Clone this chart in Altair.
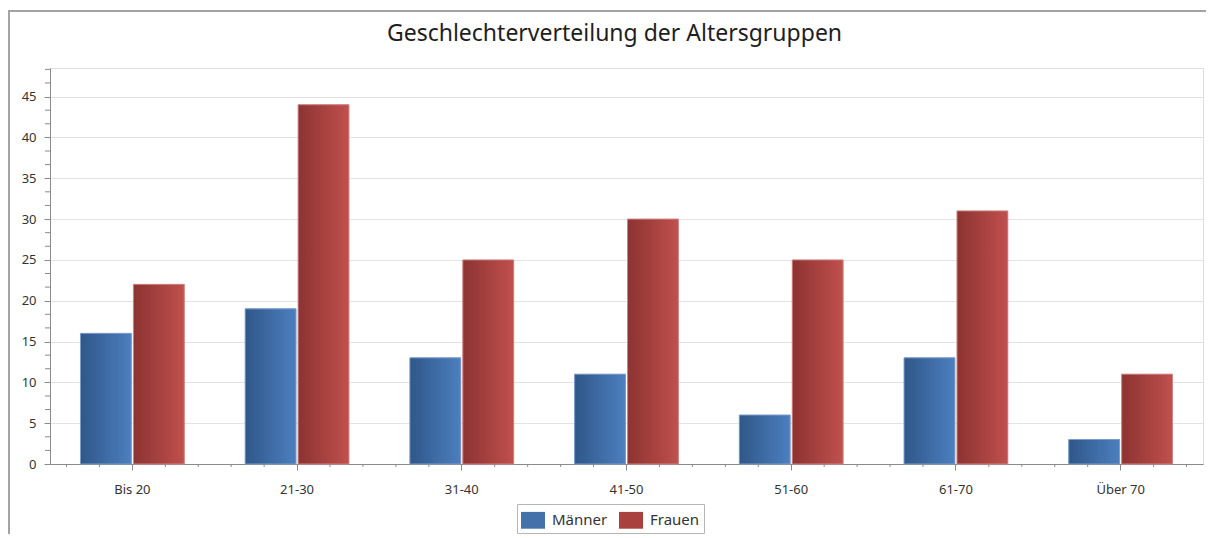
import altair as alt
import pandas as pd

categories = ["Bis 20", "21-30", "31-40", "41-50", "51-60", "61-70", "Über 70"]
maenner = [16, 19, 13, 11, 6, 13, 3]
frauen = [22, 44, 25, 30, 25, 31, 11]
series = ["Männer", "Frauen"]
y_ticks = [0, 5, 10, 15, 20, 25, 30, 35, 40, 45]
y_minor = [5 / 3, 10 / 3, 20 / 3, 25 / 3, 35 / 3, 40 / 3, 50 / 3, 55 / 3, 65 / 3, 70 / 3,
           80 / 3, 85 / 3, 95 / 3, 100 / 3, 110 / 3, 115 / 3, 125 / 3, 130 / 3, 140 / 3, 145 / 3]

rows = []
for i, c in enumerate(categories):
    rows.append({"cat": c, "idx": i, "series": "Männer", "value": maenner[i]})
    rows.append({"cat": c, "idx": i, "series": "Frauen", "value": frauen[i]})
df = pd.DataFrame(rows)
cat_df = pd.DataFrame({"cat": categories, "idx": list(range(len(categories)))})
minor_df = pd.DataFrame({"v": y_minor})

FONT = "Noto Sans"
W, H = 1153, 396

x_scale = alt.Scale(domain=categories, paddingInner=0.37, paddingOuter=0.185)
y_scale = alt.Scale(domain=[0, 48.5], nice=False)
off_scale = alt.Scale(domain=series, paddingInner=0.04)

x_enc = alt.X("cat:N", scale=x_scale, sort=categories,
              axis=alt.Axis(title=None, labelAngle=0, domainColor="#8a8a8a", tickColor="#8a8a8a",
                            tickSize=6, labelPadding=13, labelFontSize=13, labelColor="#333333",
                            labelFont=FONT, grid=False))
y_enc = alt.Y("value:Q", scale=y_scale,
              axis=alt.Axis(title=None, values=y_ticks, domainColor="#8a8a8a", tickColor="#8a8a8a",
                            tickSize=6, labelPadding=8, labelFontSize=13, labelColor="#333333",
                            labelFont=FONT, grid=True, gridColor="#e3e3e3"))

base = alt.Chart(df).mark_bar().encode(
    x=x_enc,
    y=y_enc,
    xOffset=alt.XOffset("series:N", scale=off_scale, sort=series),
    color=alt.Color("series:N", scale=alt.Scale(domain=series, range=["#4471aa", "#a9413f"]),
                    sort=series,
                    legend=alt.Legend(title=None, orient="none", direction="horizontal",
                                      legendX=467, legendY=436,
                                      symbolType="M-1,-0.7H1V0.7H-1Z", symbolSize=576,
                                      symbolStrokeWidth=0,
                                      labelFontSize=15, labelFont=FONT, labelColor="#333333",
                                      labelOffset=7, columnPadding=11,
                                      strokeColor="#b5b5b5", padding=4)),
)

blue_grad = alt.LinearGradient(gradient="linear", x1=0, x2=1, y1=0, y2=0,
                               stops=[alt.GradientStop(offset=0, color="#2f5789"),
                                      alt.GradientStop(offset=1, color="#4c7fbf")])
red_grad = alt.LinearGradient(gradient="linear", x1=0, x2=1, y1=0, y2=0,
                              stops=[alt.GradientStop(offset=0, color="#8c3331"),
                                     alt.GradientStop(offset=1, color="#c0504d")])

bars_m = alt.Chart(df).transform_filter(alt.datum.series == "Männer").mark_bar(
    fill=blue_grad, stroke="#7d9dc8", strokeWidth=1
).encode(x=alt.X("cat:N", scale=x_scale, sort=categories), y=alt.Y("value:Q", scale=y_scale),
         xOffset=alt.XOffset("series:N", scale=off_scale, sort=series))
bars_f = alt.Chart(df).transform_filter(alt.datum.series == "Frauen").mark_bar(
    fill=red_grad, stroke="#cf8583", strokeWidth=1
).encode(x=alt.X("cat:N", scale=x_scale, sort=categories), y=alt.Y("value:Q", scale=y_scale),
         xOffset=alt.XOffset("series:N", scale=off_scale, sort=series))

# minor y ticks
y_minor_layer = alt.Chart(minor_df).mark_rule(color="#8a8a8a").encode(
    y=alt.Y("v:Q", scale=y_scale), x=alt.value(-5), x2=alt.value(0))

# minor x ticks
minor_layers = []
step = W / len(categories)
for k in [-2, -1, 1, 2, 3, 4]:
    if k < 0:
        flt = alt.datum.idx == 0
    elif k > 2:
        flt = alt.datum.idx < len(categories) - 1
    else:
        flt = alt.datum.idx >= 0
    minor_layers.append(
        alt.Chart(cat_df).transform_filter(flt).mark_rule(color="#8a8a8a", xOffset=k * step / 5).encode(
            x=alt.X("cat:N", scale=x_scale, sort=categories), y=alt.value(H), y2=alt.value(H + 3))
    )

one = alt.Data(values=[{"a": 1}])
frame_top = alt.Chart(one).mark_rule(color="#a3a3a3", strokeWidth=2).encode(
    x=alt.value(-41), x2=alt.value(1200), y=alt.value(-57))
frame_left = alt.Chart(one).mark_rule(color="#a3a3a3", strokeWidth=2).encode(
    x=alt.value(-41), y=alt.value(-58), y2=alt.value(540))

chart = alt.layer(frame_top, frame_left, base, bars_m, bars_f, y_minor_layer, *minor_layers).properties(
    width=W, height=H,
    autosize="none",
    padding={"left": 42, "top": 60, "right": 3, "bottom": 70},
    title=alt.TitleParams("Geschlechterverteilung der Altersgruppen", anchor="middle", fontSize=23,
                          font=FONT, fontWeight="normal", color="#1e1e1e", offset=-37, dx=-12),
).configure_view(stroke="#d6d6d6").configure(background="white")

chart.save("out.html", embed_options={"renderer": "svg", "actions": False})
